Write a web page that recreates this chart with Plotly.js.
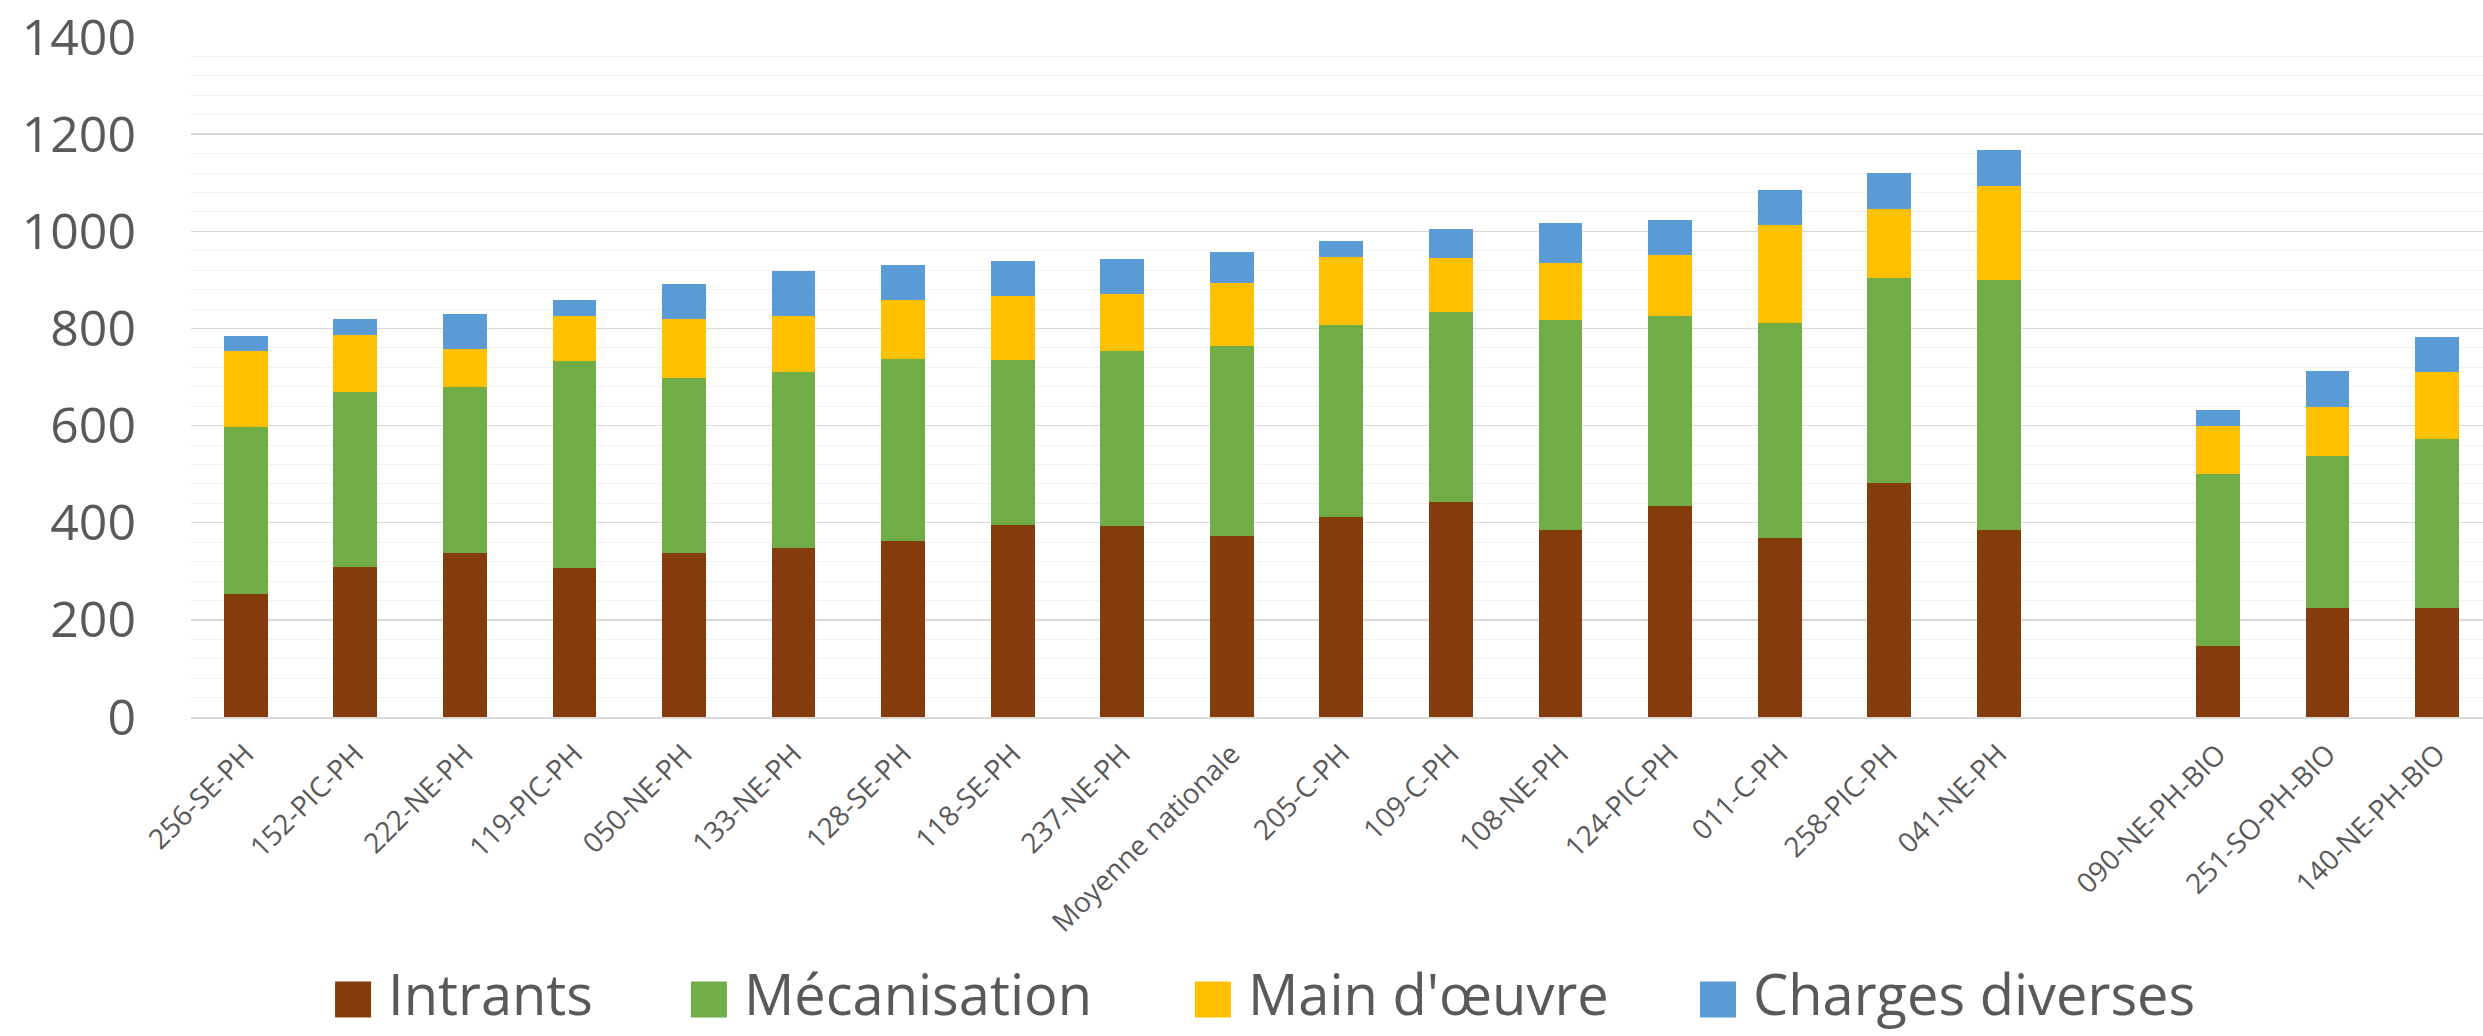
<!DOCTYPE html>
<html><head><meta charset="utf-8">
<script src="https://cdn.plot.ly/plotly-3.0.1.min.js"></script>
<style>html,body{margin:0;padding:0;background:#fff;} #chart{width:2483px;height:1036px;}</style>
</head><body><div id="chart"></div>
<script>
const categories = ['256-SE-PH','152-PIC-PH','222-NE-PH','119-PIC-PH','050-NE-PH','133-NE-PH','128-SE-PH','118-SE-PH','237-NE-PH','Moyenne nationale','205-C-PH','109-C-PH','108-NE-PH','124-PIC-PH','011-C-PH','258-PIC-PH','041-NE-PH',' ','090-NE-PH-BIO','251-SO-PH-BIO','140-NE-PH-BIO'];
const intrants        = [253,309,338,307,338,348,363,396,394,373,411,443,386,435,369,481,386,null,147,224,224];
const mecanisation    = [344,361,342,425,359,363,375,340,360,391,397,391,432,390,443,422,513,null,354,314,349];
const mainOeuvre      = [157,116, 77, 93,122,115,121,130,117,130,139,110,116,126,200,143,195,null, 99,101,137];
const chargesDiverses = [ 31, 33, 73, 33, 72, 93, 72, 73, 72, 63, 33, 61, 83, 73, 72, 73, 73,null, 32, 73, 72];
const seriesNames = ['Intrants','Mécanisation',"Main d'œuvre",'Charges diverses'];
const seriesColors = ['#843C0C','#70AD47','#FFC000','#5B9BD5'];
const seriesValues = [intrants, mecanisation, mainOeuvre, chargesDiverses];
const legendIds = ['legend','legend2','legend3','legend4'];
const legendX = [0.1281, 0.2714, 0.4744, 0.6778];

const traces = seriesValues.map((vals,i)=>({
  type:'bar', name:seriesNames[i], x:categories, y:vals,
  marker:{color:seriesColors[i], line:{width:0}},
  legend:legendIds[i], hoverinfo:'x+y+name'
}));

const legendFont = {family:'Open Sans', size:56, color:'#595959'};
const layout = {
  width:2483, height:1036,
  margin:{l:190.7, r:0, t:37, b:319, pad:0},
  paper_bgcolor:'#ffffff', plot_bgcolor:'#ffffff',
  barmode:'stack', bargap:0.6,
  xaxis:{type:'category', range:[-0.5,20.42], tickangle:-45, showgrid:false, automargin:false,
    showline:true, linecolor:'#D9D9D9', linewidth:1.5, ticks:'', ticklabelstandoff:8,
    tickfont:{family:'Open Sans', size:28, color:'#595959'}},
  yaxis:{range:[0,1400], tick0:0, dtick:200, showgrid:true, gridcolor:'#D9D9D9', gridwidth:1.3, automargin:false,
    zeroline:false, showline:false, ticks:'', ticklabelstandoff:54,
    minor:{dtick:40, showgrid:true, gridcolor:'#F2F2F2', gridwidth:1},
    tickfont:{family:'Open Sans', size:50, color:'#595959'}},
  showlegend:true
};
legendIds.forEach((id,i)=>{
  layout[id] = {orientation:'h', xref:'container', yref:'container', x:legendX[i], xanchor:'left',
    y:0.041, yanchor:'middle', font:legendFont, itemwidth:60, bgcolor:'rgba(0,0,0,0)', borderwidth:0};
});

Plotly.newPlot('chart', traces, layout, {displayModeBar:false, staticPlot:true}).then(()=>{
  document.querySelectorAll('.legendpoints path').forEach(p=>{
    p.setAttribute('transform', (p.getAttribute('transform')||'') + ' translate(0,6) scale(3)');
  });
});
</script>
</body></html>
